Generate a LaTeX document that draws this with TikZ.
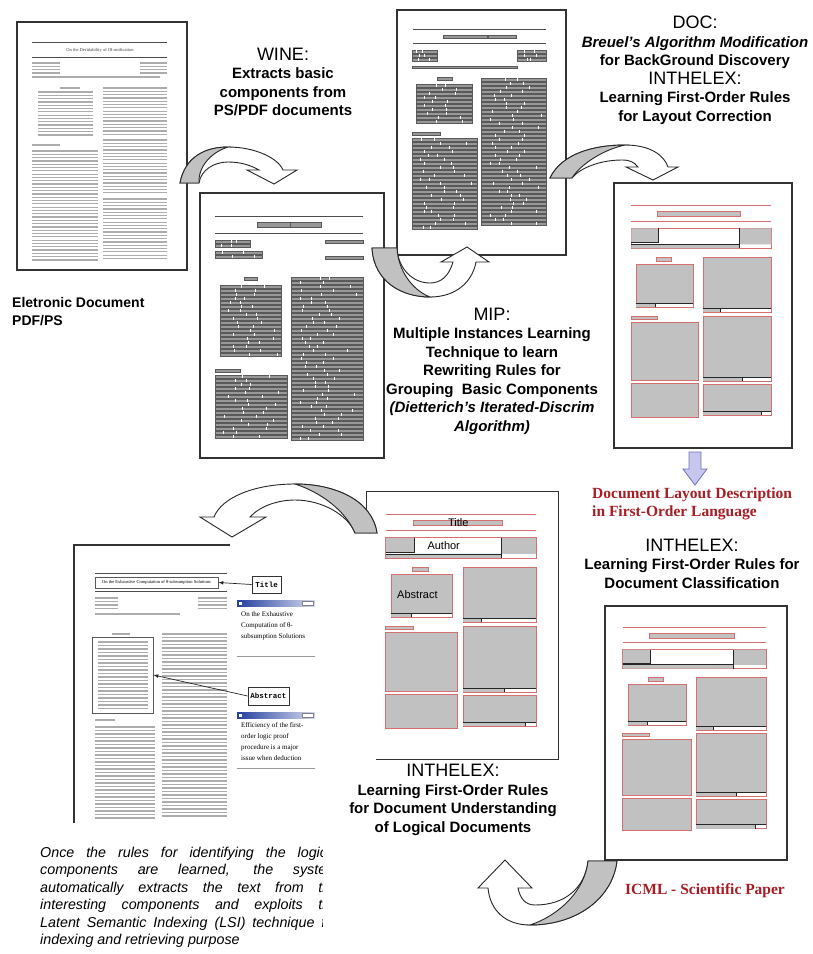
\documentclass[tikz,border=0pt]{standalone}
\usepackage{fontspec}
\setmainfont{Liberation Sans}
\newfontfamily\serifdoc{Liberation Serif}
\newfontfamily\monodoc{Liberation Mono}
\usetikzlibrary{positioning, arrows.meta}
\tikzset{>=latex}

\definecolor{layoutred}{RGB}{214,112,112}
\definecolor{boxgray}{RGB}{193,193,193}
\definecolor{bargray}{RGB}{152,152,152}
\definecolor{inkgray}{RGB}{172,172,172}
\definecolor{labelred}{RGB}{168,28,36}
\definecolor{downfill}{RGB}{198,198,238}
\definecolor{downdraw}{RGB}{112,112,188}
\definecolor{winblue}{RGB}{36,64,160}

\newcommand{\bigword}{\mdseries\fontsize{18}{18.5}\selectfont}
% faux text lines of a scanned page
\newcommand{\inklines}[5]{%
  \foreach \k in {1,...,#4}
    \draw[inkline] (#1,{#3+#5*(\k-1)}) -- (#2,{#3+#5*(\k-1)});%
}
% grey word bars of an extracted page
\newcommand{\wordbars}[4]{%
  \foreach \k in {1,...,#4}{%
    \pgfmathsetmacro{\yy}{#3+4*(\k-1)}%
    \pgfmathsetmacro{\xa}{#1+(#2-#1)*(0.12+0.38*rnd)}%
    \pgfmathsetmacro{\xb}{\xa+(#2-#1)*(0.1+0.38*rnd)}%
    \draw[wordbar] (#1,\yy) rectangle (#2,{\yy+2.8});
    \draw[worddiv] (\xa,\yy) -- (\xa,{\yy+2.8}) (\xb,\yy) -- (\xb,{\yy+2.8});
  }%
}

\tikzset{
  page/.style={draw=black!80, line width=1.1pt, fill=white, inner sep=0pt},
  inkline/.style={draw=inkgray, line width=1.2pt},
  wordbar/.style={fill=bargray, draw=black!65, line width=0.4pt},
  worddiv/.style={draw=white, line width=0.6pt},
  rule/.style={draw=black!70, line width=0.8pt},
  redrule/.style={draw=layoutred, line width=1pt},
  redbox/.style={draw=layoutred, fill=boxgray, line width=0.8pt},
  darkline/.style={draw=black!85, line width=0.8pt},
  bentarrow/.style={draw=black!85, line width=0.9pt, fill=white},
  bentback/.style={draw=black!85, line width=0.9pt, fill=boxgray},
  heading/.style={align=center, inner sep=0pt, font=\bfseries\fontsize{15}{18.5}\selectfont},
  redlabel/.style={inner sep=0pt, text=labelred, font=\serifdoc\bfseries\fontsize{15.5}{18}\selectfont},
  laylabel/.style={inner sep=0pt, font=\fontsize{11}{12}\selectfont},
  scanbox/.style={draw=black!65, line width=0.8pt, inner sep=0pt},
  callout/.style={draw=black!80, fill=white, line width=0.7pt, inner sep=2pt,
    font=\monodoc\bfseries\fontsize{7.5}{8}\selectfont},
  callarrow/.style={->, draw=black!85, line width=0.7pt},
  wintext/.style={anchor=north west, align=left, inner sep=0pt, font=\serifdoc\fontsize{7}{11}\selectfont},
  layoutpage/.pic={
    \draw[redrule] (18,23) -- (158,23);
    \draw[redbox] (44,29) rectangle (127,34);
    \draw[redrule] (18,39) -- (158,39);
    \draw[redbox, fill=white] (18,46) rectangle (158,66);
    \fill[boxgray] (18,46) rectangle (45,60) (18,62) rectangle (126,66) (126,46) rectangle (158,62);
    \draw[darkline] (18,60) -- (45,60) -- (45,46) (18,62) -- (126,62) -- (126,46) (126,62) -- (126,66);
    \draw[redbox] (43,75) rectangle (58,79);
    \draw[redbox] (23,82) rectangle (80,125);
    \draw[redbox, fill=white] (23,121) rectangle (80,125);
    \fill[boxgray] (23,121) rectangle (42,125);
    \draw[darkline] (23,121) -- (80,121) (42,121) -- (42,125);
    \draw[redbox] (18,134) rectangle (44,137);
    \draw[redbox] (18,140) rectangle (85,198);
    \draw[redbox] (18,201) rectangle (85,235);
    \draw[redbox] (90,75) rectangle (158,130);
    \draw[redbox, fill=white] (90,126) rectangle (158,130);
    \fill[boxgray] (90,126) rectangle (107,130);
    \draw[darkline] (90,126) -- (158,126) (107,126) -- (107,130);
    \draw[redbox] (90,134) rectangle (158,199);
    \draw[redbox, fill=white] (90,195) rectangle (158,199);
    \fill[boxgray] (90,195) rectangle (129,199);
    \draw[darkline] (90,195) -- (158,195) (129,195) -- (129,199);
    \draw[redbox] (90,202) rectangle (158,233);
    \draw[redbox, fill=white] (90,229) rectangle (158,233);
    \fill[boxgray] (90,229) rectangle (148,233);
    \draw[darkline] (90,229) -- (158,229) (148,229) -- (148,233);
    \coordinate (-title) at (85.5,31);
    \coordinate (-author) at (72,54);
    \coordinate (-abstract) at (47.5,102);
  }
}

\begin{document}
\begin{tikzpicture}[x=1pt, y=-1pt]
    \useasboundingbox (0,0) rectangle (812,954);
    \pgfmathsetseed{7}

    % pages
    \node[page, minimum width=170pt, minimum height=248pt] (pdfpage) at (102,146) {};
    \node[page, minimum width=184pt, minimum height=265pt] (winepage) at (292,325.5) {};
    \node[page, minimum width=169pt, minimum height=245pt] (mippage) at (481.5,132.5) {};
    \node[page, minimum width=178pt, minimum height=265pt] (docpage) at (703,315.5) {};
    \node[page, minimum width=182pt, minimum height=254pt] (classpage) at (696,733) {};
    \node[page, draw=none, minimum width=191pt, minimum height=267pt] (logicpage) at (462.5,625.5) {};
    \draw[page, fill=none] ([xshift=10pt]logicpage.south west) -- (logicpage.south east)
        -- (logicpage.north east) -- (logicpage.north west) -- ++(0,38);
    \draw[page, fill=none] (230,545) -- (74,545) -- (74,823);

    % original PDF
    \draw[rule] (32,42) -- (167,42);
    \node[inner sep=0pt, text=black!75, font=\serifdoc\fontsize{4.5}{5}\selectfont] (pdftitle) at (100,50) {On the Decidability of OI-unification};
    \draw[rule] (32,57) -- (167,57);
    \inklines{32}{60}{63}{4}{3.3}
    \inklines{140}{167}{63}{4}{3.3}
    \inklines{32}{160}{77}{1}{3}
    \draw[inkline] (60,88) -- (80,88);
    \inklines{38}{93}{92}{14}{3.3}
    \draw[inkline] (32,145) -- (60,145);
    \inklines{32}{98}{151}{34}{3.3}
    \inklines{103}{167}{88}{15}{3.3}
    \inklines{103}{167}{140}{17}{3.3}
    \inklines{103}{167}{199}{19}{3.3}

    % basic components
    \draw[rule] (215,216) -- (363,216);
    \draw[wordbar] (257,222) rectangle (290,227) (290,222) rectangle (321,227);
    \draw[rule] (215,233) -- (363,233);
    \wordbars{215}{250}{240}{2}
    \wordbars{215}{262}{251}{2}
    \draw[wordbar] (325,240) rectangle (363,243) (325,256) rectangle (363,259);
    \draw[wordbar] (244,277) rectangle (257,280);
    \wordbars{220}{281}{285}{18}
    \draw[wordbar] (215,369) rectangle (240,372);
    \wordbars{215}{287}{375}{16}
    \wordbars{291}{363}{277}{41}

    % grouped components
    \draw[rule] (413,29) -- (546,29);
    \draw[wordbar] (443,35) rectangle (487,38) (488,35) rectangle (516,38);
    \draw[rule] (413,43) -- (546,43);
    \wordbars{412}{437}{50}{3}
    \wordbars{517}{546}{50}{3}
    \draw[wordbar] (412,66) rectangle (517,68);
    \draw[wordbar] (437,77) rectangle (452,80);
    \wordbars{416}{472}{84}{10}
    \draw[wordbar] (412,132) rectangle (440,135);
    \wordbars{412}{477}{138}{23}
    \wordbars{481}{546}{78}{37}

    % layouts
    \pic (lay4) at (docpage.north west) {layoutpage};
    \pic[xscale=1.022, yscale=0.958] (lay5) at (classpage.north west) {layoutpage};
    \pic[xscale=1.073, yscale=1.0075] (lay6) at (logicpage.north west) {layoutpage};
    \node[laylabel] (laytitle) at (lay6-title) {Title};
    \node[laylabel] (layauthor) at (lay6-author) {Author};
    \node[laylabel] (layabstract) at (lay6-abstract) {Abstract};

    % scanned paper with extracted fields
    \draw[rule] (95,573) -- (227,573);
    \node[scanbox, minimum width=123pt, minimum height=11pt,
        font=\serifdoc\fontsize{4.5}{5}\selectfont] (scantitle) at (156.5,582.5)
        {On the Exhaustive Computation of θ-subsumption Solutions};
    \draw[rule] (95,591) -- (227,591);
    \inklines{95}{118}{598}{4}{3.5}
    \inklines{198}{227}{598}{4}{3.5}
    \inklines{95}{180}{614}{1}{3}
    \draw[inkline] (112,634) -- (130,634);
    \node[scanbox, minimum width=61pt, minimum height=76pt] (scanabs) at (122.5,675) {};
    \inklines{98}{148}{642}{20}{3.5}
    \draw[inkline] (95,720) -- (115,720);
    \inklines{95}{155}{727}{27}{3.5}
    \inklines{162}{227}{634}{53}{3.5}

    \node[callout, minimum width=29pt, minimum height=17pt] (calltitle) at (266.5,584.5) {Title};
    \node[callout, minimum width=41pt, minimum height=18pt] (callabs) at (268.5,696) {Abstract};
    \draw[callarrow] (calltitle.west) -- (scantitle.east);
    \draw[callarrow] (callabs.west) -- (scanabs.east);

    \shade[left color=winblue, right color=winblue!20] (237,600) rectangle (315,606);
    \fill[white] (239,601.5) rectangle (242,604.5);
    \draw[black!50, fill=white] (302,601) rectangle (313,605);
    \node[wintext] (wintitle) at (241,611) {On the Exhaustive\\Computation of θ-\\subsumption Solutions};
    \draw[black!40, line width=1pt] (237,656) -- (315,656);
    \shade[left color=winblue, right color=winblue!20] (237,712) rectangle (315,718);
    \fill[white] (239,713.5) rectangle (242,716.5);
    \draw[black!50, fill=white] (302,713) rectangle (313,717);
    \node[wintext] (winabs) at (241,722) {Efficiency of the first-\\order logic proof\\procedure is a major\\issue when deduction};
    \draw[black!40, line width=1pt] (237,768) -- (315,768);

    % curved arrows
    \draw[bentarrow] (180,183) .. controls (185,157) and (205,147) .. (228,147)
        .. controls (255,147) and (278,158) .. (283,170) -- (297,170) -- (274,184) -- (247,170) -- (259,170)
        .. controls (252,166) and (242,162) .. (228,162) .. controls (214,162) and (201,170) .. (199,183) -- cycle;
    \draw[bentback] (180,183) .. controls (185,157) and (205,147) .. (228,147)
        .. controls (212,152) and (198,166) .. (199,183) -- cycle;

    \draw[bentarrow] (372,248) .. controls (374,282) and (402,297) .. (430,297)
        .. controls (455,297) and (472,283) .. (476,262) -- (489,262) -- (467,247) -- (441,262) -- (453,262)
        .. controls (449,276) and (441,283) .. (430,283) .. controls (412,283) and (398,268) .. (397,248) -- cycle;
    \draw[bentback] (372,248) .. controls (374,282) and (402,297) .. (430,297)
        .. controls (412,290) and (398,270) .. (397,248) -- cycle;

    \draw[bentarrow] (550,178) .. controls (562,153) and (595,145) .. (625,145)
        .. controls (650,145) and (664,155) .. (668,167) -- (678,167) -- (653,180) -- (626,167) -- (638,167)
        .. controls (634,162) and (630,160) .. (622,160) .. controls (600,160) and (580,168) .. (572,178) -- cycle;
    \draw[bentback] (550,178) .. controls (562,153) and (595,145) .. (625,145)
        .. controls (602,150) and (580,165) .. (572,178) -- cycle;

    \draw[bentarrow] (617,861) .. controls (612,900) and (575,925) .. (530,925)
        .. controls (505,925) and (490,910) .. (488,888) -- (478,888) -- (505,860) -- (532,888) -- (518,888)
        .. controls (520,898) and (525,905) .. (535,905) .. controls (565,905) and (585,888) .. (588,861) -- cycle;
    \draw[bentback] (617,861) .. controls (612,900) and (575,925) .. (530,925)
        .. controls (560,915) and (585,890) .. (588,861) -- cycle;

    \draw[bentarrow] (377,533) .. controls (372,500) and (335,484) .. (295,484)
        .. controls (255,484) and (222,497) .. (214,517) -- (200,517) -- (232,537) -- (266,517) -- (250,517)
        .. controls (260,506) and (278,500) .. (295,500) .. controls (322,500) and (348,515) .. (355,533) -- cycle;
    \draw[bentback] (377,533) .. controls (372,500) and (335,484) .. (295,484)
        .. controls (320,492) and (345,510) .. (355,533) -- cycle;

    \draw[fill=downfill, draw=downdraw, line width=0.8pt] (689,452) -- (701,452) -- (701,469)
        -- (707,469) -- (695,485) -- (683,469) -- (689,469) -- cycle;

    % captions
    \node[anchor=west, align=left, inner sep=0pt, font=\bfseries\fontsize{14}{18}\selectfont] (pdfcap) at (12,312)
        {Eletronic Document\\PDF/PS};
    \node[heading] (winecap) at (283,82)
        {{\bigword WINE:}\\Extracts basic\\components from\\PS/PDF documents};
    \node[heading] (doccap) at (695,70.5)
        {{\bigword DOC:}\\\textit{Breuel's Algorithm Modification}\\for BackGround Discovery\\{\bigword INTHELEX:}\\Learning First-Order Rules\\for Layout Correction};
    \node[heading] (mipcap) at (492,371)
        {{\bigword MIP:}\\Multiple Instances Learning\\Technique to learn\\Rewriting Rules for\\Grouping\ \ Basic Components\\\textit{(Dietterich's Iterated-Discrim}\\\textit{Algorithm)}};
    \node[redlabel, anchor=west, align=left] (langcap) at (592,504)
        {Document Layout Description\\in First-Order Language};
    \node[heading] (classcap) at (692,563.5)
        {{\bigword INTHELEX:}\\Learning First-Order Rules for\\Document Classification};
    \node[redlabel] (icmlcap) at (705,891) {ICML - Scientific Paper};
    \node[heading] (logiccap) at (453,800)
        {{\bigword INTHELEX:}\\Learning First-Order Rules\\for Document Understanding\\of Logical Documents};
    \begin{scope}
        \clip (0,840) rectangle (322,954);
        \node[anchor=north west, align=left, inner sep=0pt, font=\itshape\fontsize{14.3}{17.4}\selectfont] (lsicap) at (40,847)
            {\makebox[298pt][s]{Once the rules for identifying the logical}\\
             \makebox[298pt][s]{components are learned, the system}\\
             \makebox[298pt][s]{automatically extracts the text from the}\\
             \makebox[298pt][s]{interesting components and exploits the}\\
             \makebox[298pt][s]{Latent Semantic Indexing (LSI) technique for}\\
             indexing and retrieving purpose};
    \end{scope}
\end{tikzpicture}
\end{document}
